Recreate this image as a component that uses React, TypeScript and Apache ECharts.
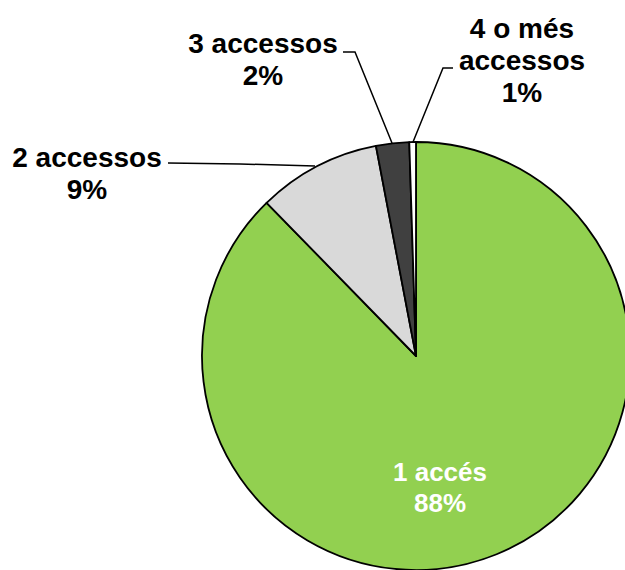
import React, { useEffect, useRef } from "react";
import * as echarts from "echarts";

const categories = ["1 accés", "2 accessos", "3 accessos", "4 o més\naccessos"];
const values = [87.7, 9.3, 2.5, 0.5];
const pctLabels = ["88%", "9%", "2%", "1%"];
const colors = ["#92D050", "#D9D9D9", "#404040", "#FFFFFF"];

// label layout (positions only)
const labelPos: [number, number][] = [
  [440, 487],
  [87, 173],
  [263, 59],
  [522, 60],
];
const linePts: ([number, number][] | null)[] = [
  null,
  [[315, 166], [240, 164], [168, 163]],
  [[392, 143], [355, 52], [343, 52]],
  [[413, 142], [443, 68], [453, 68]],
];

export default function App() {
  const ref = useRef<HTMLDivElement>(null);
  useEffect(() => {
    if (!ref.current) return;
    const chart = echarts.init(ref.current, null, { renderer: "svg" });
    chart.setOption({
      animation: false,
      backgroundColor: "#ffffff",
      series: [
        {
          type: "pie",
          center: [416, 356],
          radius: 214,
          startAngle: 90,
          clockwise: true,
          avoidLabelOverlap: false,
          itemStyle: { borderColor: "#000000", borderWidth: 1.8 },
          label: {
            show: true,
            position: "outside",
            formatter: (p: any) => `${p.name}\n${pctLabels[p.dataIndex]}`,
            fontFamily: "Liberation Sans, Arial, sans-serif",
            fontWeight: "bold",
            fontSize: 28,
            lineHeight: 32,
            color: "#000000",
            align: "center",
          },
          labelLine: { show: true, lineStyle: { color: "#000000", width: 1.5 } },
          labelLayout: (p: any) => {
            const i = p.dataIndex;
            const out: any = {
              x: labelPos[i][0],
              y: labelPos[i][1],
              align: "center",
              verticalAlign: "middle",
            };
            if (linePts[i]) out.labelLinePoints = linePts[i];
            return out;
          },
          data: categories.map((c, i) => ({
            name: c,
            value: values[i],
            itemStyle: { color: colors[i] },
            ...(i === 0
              ? {
                  label: { color: "#ffffff", fontSize: 26, lineHeight: 31 },
                  labelLine: { show: false },
                }
              : {}),
          })),
        },
      ],
    });
    return () => chart.dispose();
  }, []);
  return (
    <div
      ref={ref}
      style={{ position: "fixed", left: 0, top: 0, width: 625, height: 570, background: "#fff" }}
    />
  );
}
